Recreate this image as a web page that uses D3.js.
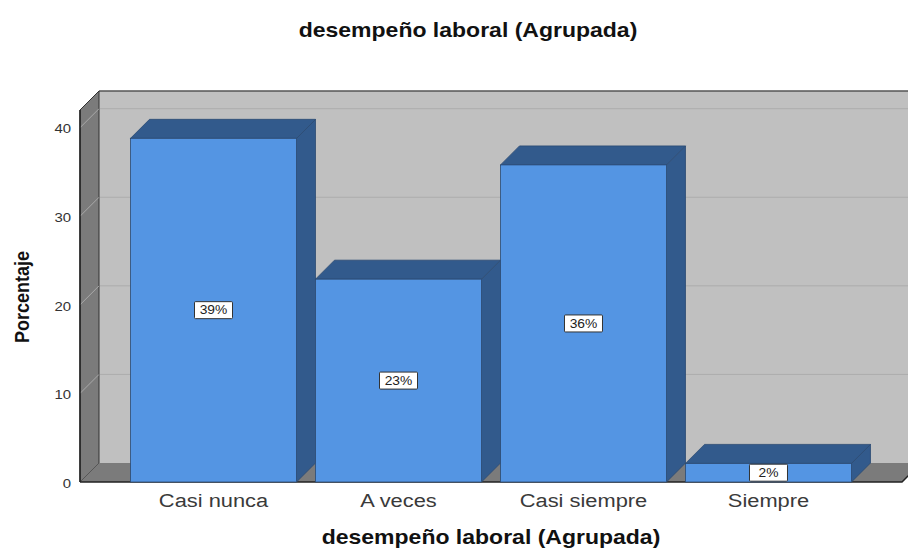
<!DOCTYPE html>
<html><head><meta charset="utf-8">
<script src="https://cdn.jsdelivr.net/npm/d3@7"></script>
<style>body{margin:0;background:#fff}svg{display:block}</style>
</head><body>
<svg id="c" width="908" height="549"></svg>
<script>
const categories = ["Casi nunca", "A veces", "Casi siempre", "Siempre"];
const values = [38.8, 22.9, 35.8, 2.1];
const yTicks = [0, 10, 20, 30, 40];
const chartTitle = "desempeño laboral (Agrupada)";
const xTitle = "desempeño laboral (Agrupada)";
const yTitle = "Porcentaje";

const svg = d3.select("#c");
const W = 908, H = 549;
const D = 19; // 3D depth offset
const SX = 1.15; // horizontal text stretch
const x0 = 80, x1 = 902, yBase = 482;

const x = d3.scaleBand().domain(categories).range([x0, x1]).paddingInner(0.1027).paddingOuter(0.273);
const y = d3.scaleLinear().domain([0, 42]).range([yBase, 110]);
const fmt = v => d3.format(".0f")(v) + "%";

const yTop = y(42);
// back wall
svg.append("rect").attr("x", x0 + D).attr("y", yTop - D).attr("width", W - x0 - D + 5).attr("height", yBase - yTop)
  .attr("fill", "#c0c0c0");
// back-wall gridlines
svg.append("g").selectAll("line").data(yTicks.slice(1)).join("line")
  .attr("x1", x0 + D).attr("x2", W).attr("y1", d => y(d) - D).attr("y2", d => y(d) - D)
  .attr("stroke", "#acacac").attr("stroke-width", 1);
// top edge of back wall
svg.append("line").attr("x1", x0 + D).attr("x2", W).attr("y1", yTop - D).attr("y2", yTop - D)
  .attr("stroke", "#555").attr("stroke-width", 1.5);
// left side wall
svg.append("path").attr("d", `M${x0},${yBase}L${x0},${yTop}L${x0 + D},${yTop - D}L${x0 + D},${yBase - D}Z`)
  .attr("fill", "#7b7b7b").attr("stroke", "#333").attr("stroke-width", 1);
// left wall grid diagonals
svg.append("g").selectAll("line").data(yTicks.slice(1)).join("line")
  .attr("x1", x0).attr("x2", x0 + D).attr("y1", d => y(d)).attr("y2", d => y(d) - D)
  .attr("stroke", "#a9a9a9").attr("stroke-width", 1);
// floor
svg.append("path").attr("d", `M${x0},${yBase}L${x0 + D},${yBase - D}L${x1 + D},${yBase - D}L${x1},${yBase}Z`)
  .attr("fill", "#7b7b7b");
svg.append("path").attr("d", `M${x0},${yBase}L${x1},${yBase}L${x1 + D},${yBase - D}`)
  .attr("fill", "none").attr("stroke", "#222").attr("stroke-width", 1.5);
svg.append("line").attr("x1", x0).attr("x2", x0).attr("y1", yTop).attr("y2", yBase)
  .attr("stroke", "#222").attr("stroke-width", 1.5);

// bars
const data = categories.map((c, i) => ({c, v: values[i]}));
const bw = x.bandwidth();
const bars = svg.append("g").selectAll("g").data(data).join("g");
const edge = "#2b4a72";
bars.append("path").attr("d", d => {
  const l = x(d.c), r = l + bw, t = y(d.v);
  return `M${r},${yBase}L${r},${t}L${r + D},${t - D}L${r + D},${yBase - D}Z`;
}).attr("fill", "#325a8c").attr("stroke", edge).attr("stroke-width", 0.8);
bars.append("path").attr("d", d => {
  const l = x(d.c), r = l + bw, t = y(d.v);
  return `M${l},${t}L${l + D},${t - D}L${r + D},${t - D}L${r},${t}Z`;
}).attr("fill", "#325a8c").attr("stroke", edge).attr("stroke-width", 0.8);
bars.append("rect").attr("x", d => x(d.c)).attr("y", d => y(d.v)).attr("width", bw)
  .attr("height", d => yBase - y(d.v)).attr("fill", "#5495e3").attr("stroke", edge).attr("stroke-width", 0.8);

// value labels
const lab = bars.append("g").attr("transform", d => `translate(${x(d.c) + bw / 2},${(yBase + y(d.v)) / 2})`);
lab.append("rect").attr("x", -19).attr("y", -8.5).attr("width", 38).attr("height", 17)
  .attr("fill", "#fff").attr("stroke", "#333").attr("stroke-width", 1).attr("rx", 1);
lab.append("text").text(d => fmt(d.v)).attr("text-anchor", "middle").attr("dy", "0.36em")
  .attr("transform", `scale(${SX},1)`)
  .attr("font-family", "Liberation Sans, Arial, sans-serif").attr("font-size", 12).attr("fill", "#222");

// y tick labels
svg.append("g").selectAll("text").data(yTicks).join("text")
  .attr("transform", d => `translate(71,${y(d) + 1}) scale(${SX},1)`)
  .attr("text-anchor", "end").attr("dy", "0.36em")
  .attr("font-family", "Liberation Sans, Arial, sans-serif").attr("font-size", 13).attr("fill", "#333")
  .text(d => d);

// category labels
svg.append("g").selectAll("text").data(categories).join("text")
  .attr("transform", d => `translate(${x(d) + bw / 2},507) scale(${SX},1)`)
  .attr("text-anchor", "middle")
  .attr("font-family", "Liberation Sans, Arial, sans-serif").attr("font-size", 19).attr("fill", "#3a3a3a")
  .text(d => d);

// titles
svg.append("text").attr("transform", `translate(468,37) scale(${SX},1)`).attr("text-anchor", "middle")
  .attr("font-family", "Liberation Sans, Arial, sans-serif").attr("font-weight", "bold").attr("font-size", 20)
  .attr("fill", "#111").text(chartTitle);
svg.append("text").attr("transform", `translate(491,544) scale(${SX},1)`).attr("text-anchor", "middle")
  .attr("font-family", "Liberation Sans, Arial, sans-serif").attr("font-weight", "bold").attr("font-size", 20)
  .attr("fill", "#111").text(xTitle);
svg.append("text").attr("transform", `translate(29,297) scale(${SX},1) rotate(-90)`).attr("text-anchor", "middle")
  .attr("font-family", "Liberation Sans, Arial, sans-serif").attr("font-weight", "bold").attr("font-size", 18)
  .attr("fill", "#111").text(yTitle);
</script>
</body></html>
